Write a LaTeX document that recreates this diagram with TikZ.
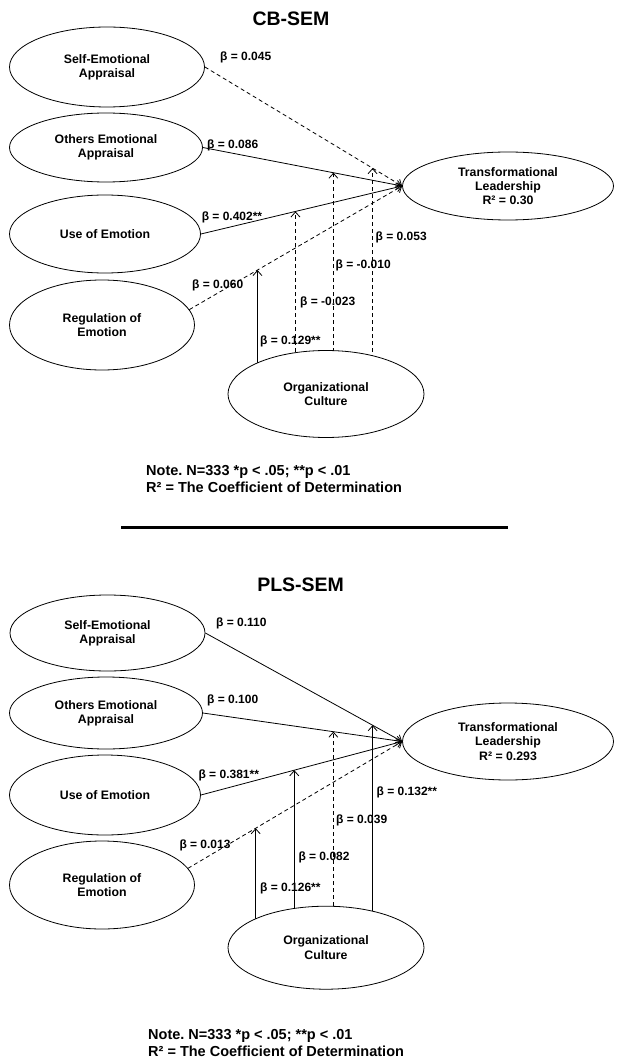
\documentclass[tikz,border=0pt]{standalone}
\usepackage{fontspec}
\setmainfont{Liberation Sans}
\usetikzlibrary{arrows.meta, shapes.geometric, backgrounds}

\begin{document}
\begin{tikzpicture}[
  x=1pt, y=-1pt,
  construct/.style={ellipse, draw, line width=0.8pt, fill=white, inner sep=0pt,
    align=center, font=\bfseries\fontsize{12.3}{14.3}\selectfont},
  coef/.style={anchor=west, inner sep=0pt,
    font=\bfseries\fontsize{12}{14}\selectfont},
  heading/.style={font=\bfseries\fontsize{19.5}{22}\selectfont},
  note/.style={anchor=west, align=left, inner sep=0pt,
    font=\bfseries\frenchspacing\fontsize{14.5}{17}\selectfont},
  sig/.style={draw, line width=0.8pt, -{Straight Barb[length=5pt, width=9pt]}},
  nsig/.style={sig, dash pattern=on 4pt off 3pt}
]
  \useasboundingbox (0,0) rectangle (616,1059);

  % CB-SEM model.
  \node[heading] (title1) at (291,18.3) {CB-SEM};
  \node[construct, minimum width=195, minimum height=80] (sea1) at (107,67) {Self-Emotional\\Appraisal};
  \node[construct, minimum width=193, minimum height=69] (oea1) at (106,147.5) {Others Emotional\\Appraisal};
  \node[construct, minimum width=191, minimum height=78] (uoe1) at (105,234) {Use of Emotion};
  \node[construct, minimum width=185, minimum height=90] (roe1) at (102,325) {Regulation of\\Emotion};
  \node[construct, minimum width=211, minimum height=68] (tl1) at (508,186) {Transformational\\Leadership\\R² = 0.30};
  \node[construct, minimum width=196, minimum height=87] (oc1) at (326,394) {Organizational\\Culture};

  % Direct paths.
  \draw[nsig] (sea1.east) -- coordinate[pos=0.85] (sm1) (tl1.west);
  \draw[sig] (oea1.east) -- coordinate[pos=0.655] (om1) (tl1.west);
  \draw[sig] (uoe1.east) -- coordinate[pos=0.47] (um1) (tl1.west);
  \draw[nsig] (roe1.10) -- coordinate[pos=0.32] (rm1) (tl1.west);

  % Moderating paths from the culture construct.
  \begin{scope}[on background layer]
    \draw[sig] (rm1 |- oc1.center) -- (rm1);
    \draw[nsig] (um1 |- oc1.center) -- (um1);
    \draw[nsig] (om1 |- oc1.center) -- (om1);
    \draw[nsig] (sm1 |- oc1.center) -- (sm1);
  \end{scope}

  \node[coef] (b11) at (220,57.3) {β = 0.045};
  \node[coef] (b12) at (207,145.7) {β = 0.086};
  \node[coef] (b13) at (201.6,217) {β = 0.402**};
  \node[coef] (b14) at (192,285) {β = 0.060};
  \node[coef] (b15) at (375.5,237.5) {β = 0.053};
  \node[coef] (b16) at (335.5,265) {β = -0.010};
  \node[coef] (b17) at (300,302) {β = -0.023};
  \node[coef] (b18) at (260,341.5) {β = 0.129**};

  \node[note] (note1) at (146,479.2) {Note. N=333 *p < .05; **p < .01\\R² = The Coefficient of Determination};

  % Separator.
  \coordinate (rulel) at (121,527.3);
  \coordinate (ruler) at (508,527.3);
  \draw[line width=2.7pt] (rulel) -- (ruler);

  % PLS-SEM model.
  \node[heading] (title2) at (300.6,584.3) {PLS-SEM};
  \node[construct, minimum width=195, minimum height=76] (sea2) at (107.5,633) {Self-Emotional\\Appraisal};
  \node[construct, minimum width=193, minimum height=72] (oea2) at (106,713) {Others Emotional\\Appraisal};
  \node[construct, minimum width=191, minimum height=80] (uoe2) at (105,795) {Use of Emotion};
  \node[construct, minimum width=185, minimum height=88] (roe2) at (102,885) {Regulation of\\Emotion};
  \node[construct, minimum width=211, minimum height=77] (tl2) at (508,741.5) {Transformational\\Leadership\\R² = 0.293};
  \node[construct, minimum width=196, minimum height=83] (oc2) at (326,947.7) {Organizational\\Culture};

  % Direct paths.
  \draw[sig] (sea2.east) -- coordinate[pos=0.85] (sm2) (tl2.west);
  \draw[sig] (oea2.east) -- coordinate[pos=0.655] (om2) (tl2.west);
  \draw[sig] (uoe2.east) -- coordinate[pos=0.464] (um2) (tl2.west);
  \draw[nsig] (roe2.11) -- coordinate[pos=0.316] (rm2) (tl2.west);

  % Moderating paths from the culture construct.
  \begin{scope}[on background layer]
    \draw[sig] (rm2 |- oc2.center) -- (rm2);
    \draw[sig] (um2 |- oc2.center) -- (um2);
    \draw[nsig] (om2 |- oc2.center) -- (om2);
    \draw[sig] (sm2 |- oc2.center) -- (sm2);
  \end{scope}

  \node[coef] (b21) at (216,623.3) {β = 0.110};
  \node[coef] (b22) at (207,700) {β = 0.100};
  \node[coef] (b23) at (198.4,775) {β = 0.381**};
  \node[coef] (b24) at (179.3,845.7) {β = 0.013};
  \node[coef] (b25) at (376.5,792) {β = 0.132**};
  \node[coef] (b26) at (336,820.7) {β = 0.039};
  \node[coef] (b27) at (298.3,857.3) {β = 0.082};
  \node[coef] (b28) at (260,888.3) {β = 0.126**};

  \node[note] (note2) at (148,1042.5) {Note. N=333 *p < .05; **p < .01\\R² = The Coefficient of Determination};
\end{tikzpicture}
\end{document}
